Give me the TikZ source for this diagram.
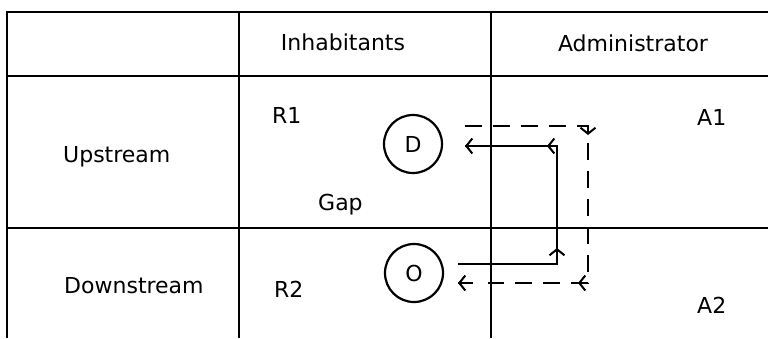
\documentclass[tikz,border=0pt]{standalone}
\usepackage{fontspec}
\setmainfont{DejaVu Sans}
\usetikzlibrary{arrows.meta,calc}
\begin{document}
\begin{tikzpicture}[x=1pt,y=-1pt,
  grid/.style={line width=2.6pt},
  vgrid/.style={line width=2pt},
  lbl/.style={font=\fontsize{22}{26}\selectfont, inner sep=0pt, anchor=base west},
  hdr/.style={font=\fontsize{22}{26}\selectfont, inner sep=0pt, anchor=base},
  circ/.style={circle, draw, line width=2.2pt, minimum size=58pt, inner sep=0pt, font=\fontsize{22}{26}\selectfont},
  flow/.style={line width=2.2pt},
  dflow/.style={line width=2.2pt, dash pattern=on 17pt off 11pt},
  tip/.style={line width=2pt, -{Straight Barb[length=6pt,width=15pt]}}]
\useasboundingbox (0,0) rectangle (768,338);
% table
\draw[grid] (6,12) -- (768,12);
\draw[grid] (6,76) -- (768,76);
\draw[grid] (6,228) -- (768,228);
\draw[vgrid] (7,11) -- (7,338);
\draw[vgrid] (239,11) -- (239,338);
\draw[vgrid] (491,11) -- (491,338);
% texts
\node[hdr] (inh) at (343,50) {Inhabitants};
\node[hdr] (adm) at (633,51) {Administrator};
\node[lbl] (up) at (63,162) {Upstream};
\node[lbl] (down) at (64,293) {Downstream};
\node[lbl] (r1) at (272,123) {R1};
\node[lbl] (r2) at (274,297) {R2};
\node[lbl] (gap) at (318,210) {Gap};
\node[lbl] (a1) at (697,125) {A1};
\node[lbl] (a2) at (697,313) {A2};
% circles
\node[circ] (D) at (413,144) {D};
\node[circ] (O) at (414,273) {O};
% solid flow
\coordinate (s0) at (458,264);
\coordinate (s1) at (557,264);
\coordinate (s2) at (557,146);
\coordinate (s3) at (465,146);
\draw[flow] (s0) -- (s1) -- (s2) -- (s3);
\draw[tip] ($(s1)+(0,-8)$) -- ($(s1)+(0,-16)$);
\draw[tip] ($(s2)+(-2,0)$) -- ($(s2)+(-10,0)$);
\draw[tip] ($(s3)+(8,0)$) -- (s3);
% dashed flow
\coordinate (t0) at (465,126);
\coordinate (t1) at (588,126);
\coordinate (t2) at (588,283);
\coordinate (t3) at (458,283);
\draw[dflow] (t0) -- (t1) -- (t2) -- ($(t3)+(30,0)$);
\draw[flow] ($(t3)+(15,0)$) -- (t3);
\draw[tip] ($(t1)+(0,1)$) -- ($(t1)+(0,9)$);
\draw[tip] ($(t2)+(-2,0)$) -- ($(t2)+(-10,0)$);
\draw[tip] ($(t3)+(8,0)$) -- (t3);
\end{tikzpicture}
\end{document}
